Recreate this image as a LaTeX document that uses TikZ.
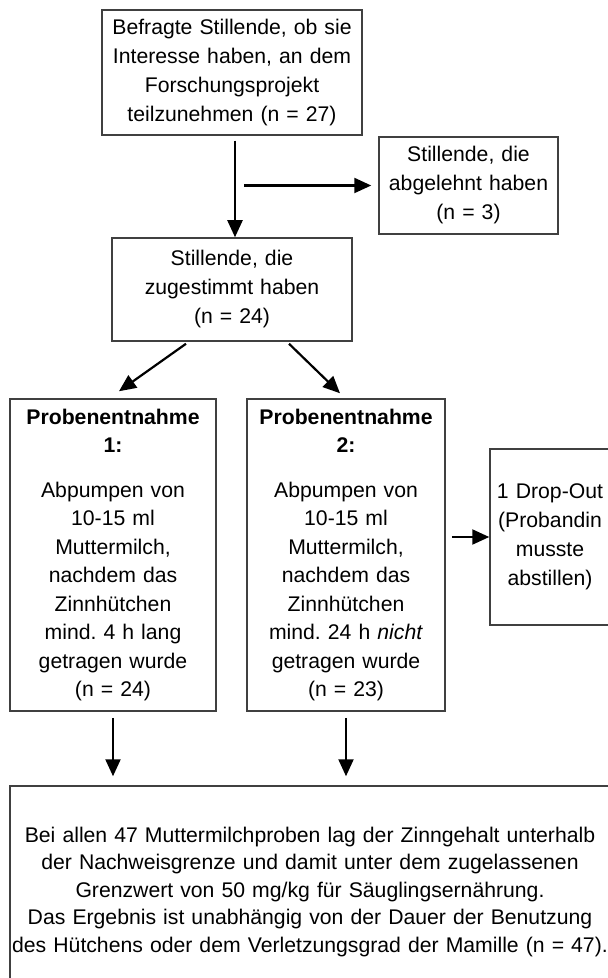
\documentclass[tikz,border=0pt]{standalone}
\usepackage{fontspec}
\setmainfont{Liberation Sans}
\usetikzlibrary{arrows.meta,positioning,calc}
\frenchspacing

\begin{document}
\begin{tikzpicture}[x=0.5pt,y=-0.5pt,
  box/.style={draw=black!75, line width=0.75pt, inner sep=0pt, align=center,
    font=\fontsize{10.6}{14.5}\selectfont},
  arr/.style={-{Triangle[length=8.5pt,width=7.5pt]}, line width=1.1pt}]
  \useasboundingbox (0,0) rectangle (608,978);

  \node (befragt) [box, text width=130pt, minimum height=62.5pt] at (232,72.5)
    {Befragte Stillende, ob sie\\Interesse haben, an dem\\Forschungsprojekt\\teilzunehmen (n = 27)};
  \node (abgelehnt) [box, text width=89.5pt, minimum height=48.5pt] at (468.5,185.5)
    {Stillende, die\\abgelehnt haben\\(n = 3)};
  \node (zugestimmt) [box, text width=120pt, minimum height=51.5pt] at (232,289.5)
    {Stillende, die\\zugestimmt haben\\(n = 24)};

  \node (probe1) [box, text width=103pt, minimum height=156pt, font=\fontsize{10.6}{14.25}\selectfont] at (113,555)
    {\textbf{Probenentnahme}\\\textbf{1:}\\[8pt]Abpumpen von\\10-15 ml\\Muttermilch,\\nachdem das\\Zinnhütchen\\mind. 4 h lang\\getragen wurde\\(n = 24)};
  \node (probe2) [box, text width=99pt, minimum height=156pt, font=\fontsize{10.6}{14.25}\selectfont] at (346,555)
    {\textbf{Probenentnahme}\\\textbf{2:}\\[8pt]Abpumpen von\\10-15 ml\\Muttermilch,\\nachdem das\\Zinnhütchen\\mind. 24 h \textit{nicht}\\getragen wurde\\(n = 23)};
  \node (dropout) [box, text width=60pt, minimum height=88pt] at (550,537)
    {1 Drop-Out\\(Probandin\\musste\\abstillen)};

  \node (ergebnis) [box, text width=300pt, minimum height=106pt, font=\fontsize{10.6}{13.75}\selectfont] at (310,892)
    {Bei allen 47 Muttermilchproben lag der Zinngehalt unterhalb\\der Nachweisgrenze und damit unter dem zugelassenen\\Grenzwert von 50 mg/kg für Säuglingsernährung.\\Das Ergebnis ist unabhängig von der Dauer der Benutzung\\des Hütchens oder dem Verletzungsgrad der Mamille (n = 47).};

  \coordinate (abzweig) at (244,185.5);

  \draw [arr] ([xshift=1.5pt,yshift=-2.5pt]befragt.south) -- ([xshift=1.5pt]zugestimmt.north);
  \draw [arr] (abzweig) -- ([xshift=-3.5pt]abgelehnt.west);
  \draw [arr] ([xshift=-23pt,yshift=-1pt]zugestimmt.south) -- ([xshift=3pt,yshift=3.5pt]probe1.north);
  \draw [arr] ([xshift=28.5pt,yshift=-1pt]zugestimmt.south) -- ([xshift=-3pt,yshift=2.5pt]probe2.north);
  \draw [arr] ([xshift=3pt]probe2.east |- dropout.west) -- (dropout.west);
  \draw [arr] ([yshift=-3pt]probe1.south) -- ([yshift=4.5pt]probe1.south |- ergebnis.north);
  \draw [arr] ([yshift=-3pt]probe2.south) -- ([yshift=4.5pt]probe2.south |- ergebnis.north);
\end{tikzpicture}
\end{document}
